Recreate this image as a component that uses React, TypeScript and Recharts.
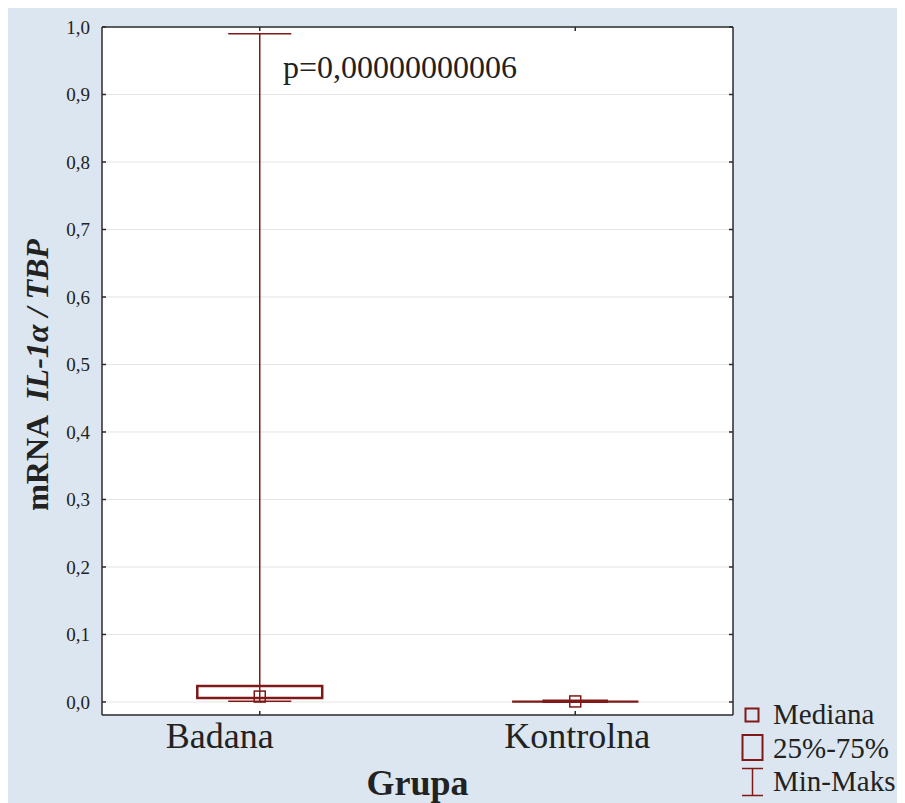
import { ComposedChart, XAxis, YAxis, CartesianGrid, Scatter, ReferenceArea, ReferenceLine } from 'recharts';

const groups = ['Badana', 'Kontrolna'];
const minValues = [0.001, 0.0];
const q1Values = [0.006, 0.0003];
const medianValues = [0.008, 0.0008];
const q3Values = [0.0237, 0.0018];
const maxValues = [0.99, 0.001];
const yTicks = [0, 0.1, 0.2, 0.3, 0.4, 0.5, 0.6, 0.7, 0.8, 0.9, 1.0];
const pValueText = 'p=0,00000000006';

const RED = '#801818';
const FRAME = '#2b2b2b';
const FONT = '"Liberation Serif", "Times New Roman", serif';

// half widths in x units (1 unit = one group step)
const boxHalf = [0.198, 0.1];
const capHalf = [0.1, 0.2];
const labelShift: Record<string, number> = { Badana: -40, Kontrolna: 2 };

const medianData = groups.map((g, i) => ({ x: i + 1, y: medianValues[i], name: g }));

const fmt = (v: number) => v.toFixed(1).replace('.', ',');

function LeftTick(props: any) {
  const { x, y, payload } = props;
  return (
    <g>
      <line x1={x + 12} x2={x + 16} y1={y} y2={y} stroke={FRAME} strokeWidth={1.5} />
      <text x={x} y={y} dy="0.35em" textAnchor="end" fontSize={19} fontFamily={FONT} fill="#222">
        {fmt(payload.value)}
      </text>
    </g>
  );
}

function RightTick(props: any) {
  const { x, y } = props;
  return <line x1={x} x2={x - 4} y1={y} y2={y} stroke={FRAME} strokeWidth={1.5} />;
}

function TopTick(props: any) {
  const { x, y } = props;
  return <line x1={x} x2={x} y1={y} y2={y + 4} stroke={FRAME} strokeWidth={1.5} />;
}

function BottomTick(props: any) {
  const { x, y, payload } = props;
  const name = groups[payload.value - 1];
  return (
    <g>
      <line x1={x} x2={x} y1={y} y2={y - 4} stroke={FRAME} strokeWidth={1.5} />
      <text x={x + (labelShift[name] || 0)} y={y + 33} textAnchor="middle" fontSize={36} fontFamily={FONT} fill="#222">
        {name}
      </text>
    </g>
  );
}

function MedianShape(props: any) {
  const { cx, cy } = props;
  return <rect x={cx - 5.5} y={cy - 5.5} width={11} height={11} fill="none" stroke={RED} strokeWidth={1.5} />;
}

function YLabel(props: any) {
  const vb = props.viewBox;
  const cx = 29;
  const cy = vb.y + vb.height / 2 + 4;
  return (
    <text x={cx} y={cy} transform={`rotate(-90 ${cx} ${cy})`} textAnchor="middle" dy="0.35em"
      fontSize={32} fontWeight="bold" fontFamily={FONT} fill="#222">
      <tspan>mRNA</tspan>
      <tspan dx={14} fontStyle="italic">IL-1α / TBP</tspan>
    </text>
  );
}

function XLabel(props: any) {
  const vb = props.viewBox;
  return (
    <text x={vb.x + vb.width / 2} y={vb.y + 80} textAnchor="middle" fontSize={36} fontWeight="bold" fontFamily={FONT} fill="#222">
      Grupa
    </text>
  );
}

function LegendBox() {
  const rowStyle: React.CSSProperties = { position: 'absolute', left: 0, width: 170, height: 32 };
  const textStyle: React.CSSProperties = { fontFamily: FONT, fontSize: 29, color: '#222', position: 'absolute', left: 39, top: 0, whiteSpace: 'nowrap', lineHeight: '28px' };
  return (
    <div style={{ position: 'absolute', left: 726, top: 692, width: 170, height: 100 }}>
      <div style={{ ...rowStyle, top: 0 }}>
        <svg width={32} height={32} style={{ position: 'absolute', left: 0, top: 0 }}>
          <rect x={11.5} y={8.5} width={13} height={13} fill="none" stroke={RED} strokeWidth={2} />
        </svg>
        <span style={textStyle}>Mediana</span>
      </div>
      <div style={{ ...rowStyle, top: 34 }}>
        <svg width={32} height={32} style={{ position: 'absolute', left: 0, top: 0 }}>
          <rect x={8.5} y={1} width={20} height={25} fill="none" stroke={RED} strokeWidth={2} />
        </svg>
        <span style={textStyle}>25%-75%</span>
      </div>
      <div style={{ ...rowStyle, top: 67 }}>
        <svg width={32} height={32} style={{ position: 'absolute', left: 0, top: 0 }}>
          <line x1={8} x2={29} y1={1.5} y2={1.5} stroke={RED} strokeWidth={1.5} />
          <line x1={18.5} x2={18.5} y1={1.5} y2={28.5} stroke={RED} strokeWidth={1.5} />
          <line x1={8} x2={29} y1={28.5} y2={28.5} stroke={RED} strokeWidth={1.5} />
        </svg>
        <span style={textStyle}>Min-Maks</span>
      </div>
    </div>
  );
}

export default function App() {
  const xDomain = [0.5, 2.5];
  const yDomain = [-0.0193, 1.0];
  return (
    <div style={{ position: 'relative', width: 897, height: 795, background: '#dbe6f1' }}>
      <ComposedChart width={897} height={795} margin={{ top: 18, right: 171, bottom: 28, left: 0 }} data={medianData}>
        <CartesianGrid horizontal vertical={false} stroke="#e4e4e4" fill="#ffffff" />
        <XAxis xAxisId={0} type="number" dataKey="x" domain={xDomain} ticks={[1, 2]} allowDataOverflow
          height={60} tickSize={0} tickMargin={0} tick={<BottomTick />} axisLine={{ stroke: FRAME, strokeWidth: 1.5 }}
          label={<XLabel />} />
        <XAxis xAxisId="top" orientation="top" type="number" dataKey="x" domain={xDomain} ticks={[1, 2]} allowDataOverflow
          height={1} tickSize={0} tickMargin={0} tick={<TopTick />} axisLine={{ stroke: FRAME, strokeWidth: 1.5 }} />
        <YAxis yAxisId={0} type="number" domain={yDomain} ticks={yTicks} allowDataOverflow width={94}
          tickSize={0} tickMargin={12} tick={<LeftTick />} axisLine={{ stroke: FRAME, strokeWidth: 1.5 }}
          label={<YLabel />} />
        <YAxis yAxisId="right" orientation="right" type="number" domain={yDomain} ticks={yTicks} allowDataOverflow width={1}
          tickSize={0} tickMargin={0} tick={<RightTick />} axisLine={{ stroke: FRAME, strokeWidth: 1.5 }} />

        {groups.map((g, i) => (
          <ReferenceLine key={`w-${g}`} segment={[{ x: i + 1, y: minValues[i] }, { x: i + 1, y: maxValues[i] }]}
            stroke={RED} strokeWidth={1.5} ifOverflow="visible" />
        ))}
        {groups.map((g, i) => (
          <ReferenceLine key={`cmax-${g}`} segment={[{ x: i + 1 - capHalf[i], y: maxValues[i] }, { x: i + 1 + capHalf[i], y: maxValues[i] }]}
            stroke={RED} strokeWidth={1.5} ifOverflow="visible" />
        ))}
        {groups.map((g, i) => (
          <ReferenceLine key={`cmin-${g}`} segment={[{ x: i + 1 - capHalf[i], y: minValues[i] }, { x: i + 1 + capHalf[i], y: minValues[i] }]}
            stroke={RED} strokeWidth={1.5} ifOverflow="visible" />
        ))}
        {groups.map((g, i) => (
          <ReferenceArea key={`b-${g}`} x1={i + 1 - boxHalf[i]} x2={i + 1 + boxHalf[i]} y1={q1Values[i]} y2={q3Values[i]}
            stroke={RED} strokeWidth={2.5} fill="#ffffff" fillOpacity={1} ifOverflow="visible" />
        ))}
        <Scatter dataKey="y" data={medianData} shape={<MedianShape />} isAnimationActive={false} />
        <text x={275} y={70} fontSize={32} fontFamily={FONT} fill="#222">{pValueText}</text>
      </ComposedChart>
      <LegendBox />
    </div>
  );
}
